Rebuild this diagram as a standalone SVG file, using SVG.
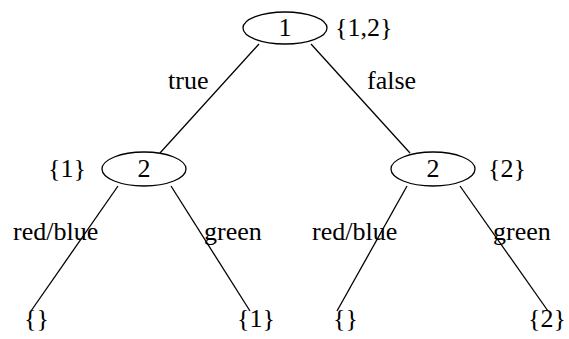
<svg xmlns="http://www.w3.org/2000/svg" width="569" height="339" viewBox="0 0 569 339" font-family="'Liberation Serif', 'DejaVu Serif', 'Times New Roman', serif" font-size="26">
<style>
text{font-family:'Liberation Serif','DejaVu Serif','Times New Roman',serif;font-size:26px;fill:#000}
.n{fill:none;stroke:#000;stroke-width:1.3}
.e{stroke:#000;stroke-width:1.3;fill:none}
.c{text-anchor:middle}
.r{text-anchor:end}
</style>
<rect width="569" height="339" fill="#fff"/>
<g id="connectors">
<line class="e" x1="259" y1="44" x2="160" y2="153"/>
<line class="e" x1="311" y1="44" x2="410" y2="153"/>
<line class="e" x1="118" y1="186" x2="31" y2="311"/>
<line class="e" x1="171" y1="186" x2="250" y2="311"/>
<line class="e" x1="407" y1="186" x2="337" y2="311"/>
<line class="e" x1="460" y1="186" x2="548" y2="311"/>
<text x="168" y="89">true</text>
<text x="367" y="89">false</text>
<text x="13" y="240">red/blue</text>
<text x="204" y="240">green</text>
<text x="312" y="240">red/blue</text>
<text x="493" y="240">green</text>
</g>
<g id="n1">
<ellipse class="n" cx="285" cy="28" rx="42" ry="16"/>
<text class="c" x="285" y="36">1</text>
<text x="335" y="36">{1,2}</text>
</g>
<g id="n2l">
<ellipse class="n" cx="144" cy="169" rx="42" ry="17"/>
<text class="c" x="144" y="177">2</text>
<text x="48" y="177">{1}</text>
</g>
<g id="n2r">
<ellipse class="n" cx="433" cy="169" rx="42" ry="17"/>
<text class="c" x="433" y="177">2</text>
<text x="488" y="177">{2}</text>
</g>
<g id="l1"><text x="24" y="327">{}</text></g>
<g id="l2"><text x="237" y="327">{1}</text></g>
<g id="l3"><text x="333" y="327">{}</text></g>
<g id="l4"><text class="r" x="566" y="327">{2}</text></g>
</svg>
